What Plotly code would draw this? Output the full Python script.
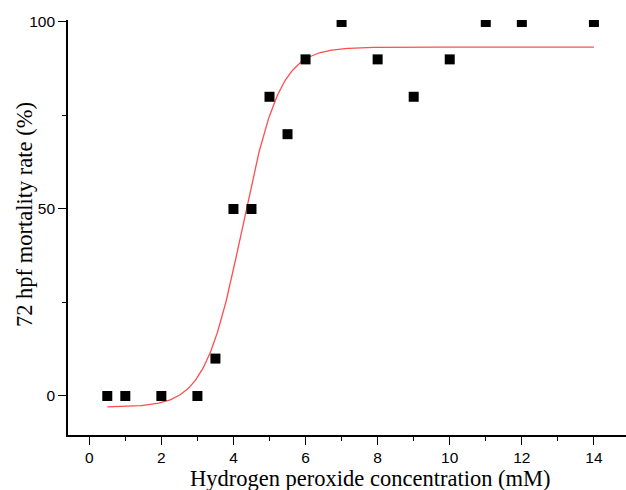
import numpy as np
import plotly.graph_objects as go

# Measured data points
concentration_mM = [0.5, 1, 2, 3, 3.5, 4, 4.5, 5, 5.5, 6, 7, 8, 9, 10, 11, 12, 14]
mortality_pct = [0, 0, 0, 0, 10, 50, 50, 80, 70, 90, 100, 90, 80, 90, 100, 100, 100]

# Boltzmann sigmoid fit parameters
fit_A1 = -3.0
fit_A2 = 93.3
fit_x0 = 4.25
fit_dx = 0.52
fit_x_start = 0.5
fit_x_end = 14.0

x_ticks = [0, 2, 4, 6, 8, 10, 12, 14]
y_ticks = [0, 50, 100]
x_title = "Hydrogen peroxide concentration (mM)"
y_title = "72 hpf mortality rate (%)"

fit_x = np.linspace(fit_x_start, fit_x_end, 400)
fit_y = fit_A2 + (fit_A1 - fit_A2) / (1 + np.exp((fit_x - fit_x0) / fit_dx))

PLOT_W, PLOT_H = 558, 415

fig = go.Figure()
fig.add_trace(go.Scatter(x=fit_x, y=fit_y, mode="lines",
                         line=dict(color="#ff4d4d", width=1.3),
                         hoverinfo="skip", showlegend=False))
fig.add_trace(go.Scatter(x=concentration_mM, y=mortality_pct, mode="markers",
                         marker=dict(symbol="square", size=10, color="black"),
                         showlegend=False))

title_font = dict(family="Liberation Serif, Times New Roman", size=22.5, color="black")
fig.add_annotation(text=x_title, xref="paper", yref="paper",
                   x=(370 - 68) / PLOT_W, y=-(478 - 435) / PLOT_H,
                   xanchor="center", yanchor="middle", showarrow=False, font=title_font)
fig.add_annotation(text=y_title, xref="paper", yref="paper",
                   x=(25 - 68) / PLOT_W, y=(435 - 215) / PLOT_H, textangle=-90,
                   xanchor="center", yanchor="middle", showarrow=False, font=title_font)

tick_font = dict(family="Liberation Sans, Arial", size=15.5, color="black")

fig.update_layout(
    width=626, height=490,
    margin=dict(l=68, r=0, t=20, b=55, autoexpand=False),
    plot_bgcolor="white", paper_bgcolor="white",
    xaxis=dict(
        range=[-0.59, 14.89], tickvals=x_ticks, ticktext=[str(v) for v in x_ticks],
        showgrid=False, zeroline=False, showline=True, linecolor="black", linewidth=1.6,
        ticks="outside", ticklen=8, tickwidth=1.4, tickcolor="black",
        minor=dict(tickvals=[1, 3, 5, 7, 9, 11, 13], ticks="outside", ticklen=4,
                   tickwidth=1.4, tickcolor="black"),
        tickfont=tick_font,
        automargin=False,
    ),
    yaxis=dict(
        range=[-10.43, 100.53], tickvals=y_ticks, ticktext=[str(v) for v in y_ticks],
        showgrid=False, zeroline=False, showline=True, linecolor="black", linewidth=1.6,
        ticks="outside", ticklen=8, tickwidth=1.4, tickcolor="black",
        minor=dict(tickvals=[25, 75], ticks="outside", ticklen=4,
                   tickwidth=1.4, tickcolor="black"),
        tickfont=tick_font,
        automargin=False,
    ),
)

# Remove the page's default body margin so the figure fills the window exactly.
fig.write_html("out.html",
               config={"displayModeBar": False},
               post_script="document.body.style.margin='0';document.body.style.overflow='hidden';")
